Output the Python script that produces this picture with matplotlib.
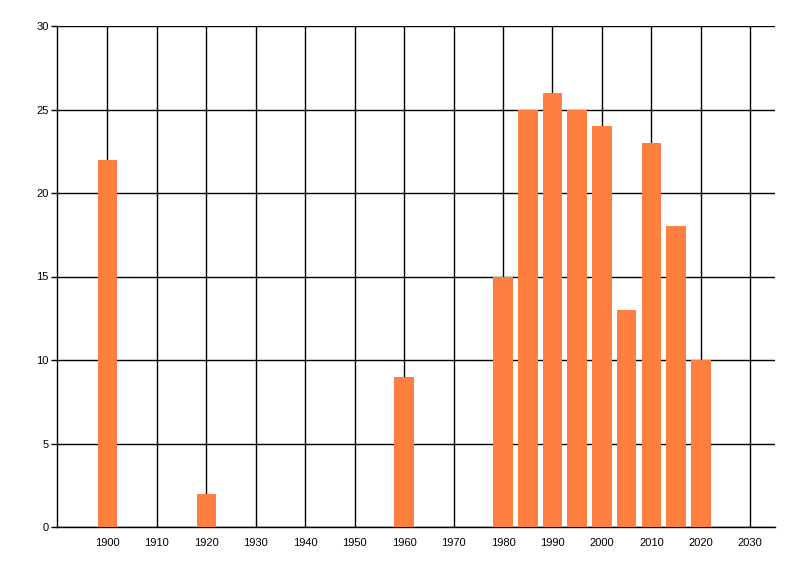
import matplotlib.pyplot as plt

# values
years = [1900, 1920, 1960, 1980, 1985, 1990, 1995, 2000, 2005, 2010, 2015, 2020]
counts = [22, 2, 9, 15, 25, 26, 25, 24, 13, 23, 18, 10]
xticks = list(range(1900, 2031, 10))
yticks = [0, 5, 10, 15, 20, 25, 30]

plt.rcParams['font.family'] = ['Liberation Sans', 'DejaVu Sans']

fig = plt.figure(figsize=(8, 5.76), dpi=100)
ax = fig.add_axes([57 / 800, 1 - 527 / 576, (775 - 57) / 800, (527 - 26) / 576])

ax.bar(years, counts, width=3.95, color='#FF7F40', zorder=3)

ax.set_xlim(1889.8, 2035)
ax.set_ylim(0, 30)
ax.set_xticks(xticks)
ax.set_yticks(yticks)
ax.grid(True, color='black', linewidth=1.0, zorder=1)
ax.set_axisbelow(True)

ax.spines['right'].set_visible(False)
ax.spines['top'].set_visible(False)
ax.spines['left'].set_linewidth(1.0)
ax.spines['bottom'].set_linewidth(1.0)

ax.tick_params(axis='y', length=4, width=1.0, labelsize=8, pad=2)
ax.tick_params(axis='x', length=0, labelsize=8, pad=8)

fig.savefig('out.png', dpi=100)
